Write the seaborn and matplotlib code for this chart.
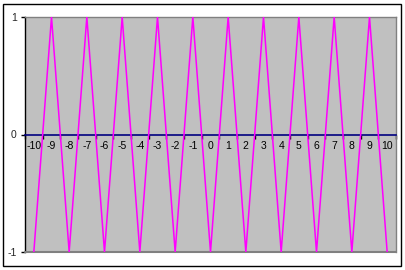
import matplotlib
matplotlib.use("Agg")
import matplotlib.pyplot as plt
import seaborn as sns
import pandas as pd
from matplotlib.patches import Rectangle

categories = [-10, -9, -8, -7, -6, -5, -4, -3, -2, -1, 0, 1, 2, 3, 4, 5, 6, 7, 8, 9, 10]
values = [-1, 1, -1, 1, -1, 1, -1, 1, -1, 1, -1, 1, -1, 1, -1, 1, -1, 1, -1, 1, -1]
y_ticks = [-1, 0, 1]

df = pd.DataFrame({"x": categories, "y": values})

sns.set_style("white")
plt.rcParams["font.family"] = ["Liberation Sans", "DejaVu Sans"]

W, H = 406, 270
fig = plt.figure(figsize=(W / 100, H / 100), dpi=100)
fig.patch.set_facecolor("white")
ax = fig.add_axes([25 / W, (H - 252) / H, (396 - 25) / W, (252 - 17) / H])
ax.set_facecolor("#C0C0C0")

sns.lineplot(data=df, x="x", y="y", ax=ax, color="#FF00FF", linewidth=1.1, legend=False, zorder=4)

ax.set_xlim(categories[0] - 0.5, categories[-1] + 0.5)
ax.set_ylim(-1, 1)
ax.set_xlabel("")
ax.set_ylabel("")

# x axis at zero, navy
ax.spines["bottom"].set_position(("data", 0))
ax.spines["bottom"].set_color("#000080")
ax.spines["bottom"].set_linewidth(1.2)
ax.spines["left"].set_color("black")
ax.spines["left"].set_linewidth(1.0)
for s in ("top", "right"):
    ax.spines[s].set_color("#808080")
    ax.spines[s].set_linewidth(1.0)
ax.axhline(-1, color="#808080", linewidth=1.5, clip_on=False, zorder=3)

ax.set_xticks(categories)
ax.set_xticklabels([str(c) for c in categories], fontsize=7.5)
ax.set_xticks([c + 0.5 for c in categories[:-1]] + [categories[0] - 0.5, categories[-1] + 0.5], minor=True)
ax.tick_params(axis="x", which="major", length=0, pad=5, colors="black")
ax.tick_params(axis="x", which="minor", length=3, width=1, color="black", direction="out", bottom=True)
ax.tick_params(axis="x", labelcolor="black")

ax.set_yticks(y_ticks)
ax.set_yticklabels([str(t) for t in y_ticks], fontsize=7.5)
ax.tick_params(axis="y", which="major", length=3, width=1, color="black", direction="out", left=True, pad=3)

fig.patches.append(Rectangle((3.5 / W, (H - 265.5) / H), (401 - 3.5) / W, (265.5 - 3.5) / H,
                             transform=fig.transFigure, fill=False, edgecolor="black", linewidth=1.0))

fig.savefig("out.png", dpi=100)
